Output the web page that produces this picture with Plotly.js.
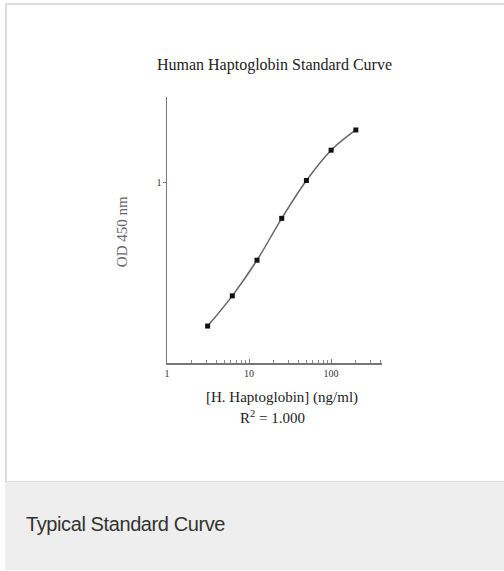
<!DOCTYPE html>
<html>
<head>
<meta charset="utf-8">
<script src="https://cdn.plot.ly/plotly-3.0.1.min.js"></script>
<style>
  html, body { margin: 0; padding: 0; width: 504px; height: 571px; overflow: hidden; background: #ffffff; }
  #card { position: absolute; left: 5px; top: 3px; width: 499px; height: 478px; background: #ffffff;
          border-left: 2px solid #dddddd; border-top: 2px solid #dddddd; box-sizing: border-box; }
  #foot { position: absolute; left: 5px; top: 481px; width: 499px; height: 89px; background: #edeeed;
          border-top: 1px solid #dcdddc; box-sizing: border-box; }
  #caption { position: absolute; left: 26px; top: 513px; font-family: "Liberation Sans", Arial, sans-serif;
             font-size: 20px; line-height: 23px; color: #333333; letter-spacing: -0.4px; white-space: nowrap; }
  #chart { position: absolute; left: 0; top: 0; width: 504px; height: 571px; }
</style>
</head>
<body>
<div id="card"></div>
<div id="foot"></div>
<div id="caption">Typical Standard Curve</div>
<div id="chart"></div>
<script>
// Data
const concentrations = [3.125, 6.25, 12.5, 25, 50, 100, 200]; // ng/ml
const od450 = [0.16, 0.235, 0.37, 0.63, 1.02, 1.50, 1.94];
const xTickVals = [1, 10, 100];
const xTickText = ['1', '10', '100'];
const xMinorTickVals = [2,3,4,5,6,7,8,9,20,30,40,50,60,70,80,90,200,300,400];
const yTickVals = [1];
const yTickText = ['1'];

const serif = "Liberation Serif, Times New Roman, serif";

const trace = {
  x: concentrations,
  y: od450,
  type: 'scatter',
  mode: 'lines+markers',
  line: { color: '#666666', width: 1.5, shape: 'spline', smoothing: 1 },
  marker: { symbol: 'square', size: 5, color: '#111111' },
  hoverinfo: 'skip'
};

const layout = {
  width: 504, height: 571,
  margin: { l: 167, r: 122, t: 97, b: 208, pad: 0 },
  paper_bgcolor: 'rgba(0,0,0,0)',
  plot_bgcolor: 'rgba(0,0,0,0)',
  showlegend: false,
  title: {
    text: 'Human Haptoglobin Standard Curve',
    font: { family: serif, size: 16, color: '#222222' },
    x: 0.5, xref: 'paper', xanchor: 'center',
    y: 1 - 64 / 571, yref: 'container', yanchor: 'middle'
  },
  xaxis: {
    type: 'log', range: [0, 2.62],
    showline: true, linecolor: '#777777', linewidth: 1.5,
    showgrid: false, zeroline: false,
    tickmode: 'array', tickvals: xTickVals, ticktext: xTickText,
    ticks: 'inside', ticklen: 4, tickwidth: 1, tickcolor: '#777777',
    tickfont: { family: serif, size: 10, color: '#333333' },
    minor: { tickmode: 'array', tickvals: xMinorTickVals, ticks: 'inside', ticklen: 3,
             tickwidth: 1, tickcolor: '#888888', showgrid: false }
  },
  yaxis: {
    type: 'log', range: [-1, 0.47],
    showline: true, linecolor: '#777777', linewidth: 1.5,
    showgrid: false, zeroline: false,
    tickmode: 'array', tickvals: yTickVals, ticktext: yTickText,
    ticks: 'outside', ticklen: 3, tickwidth: 1, tickcolor: '#777777',
    ticklabelstandoff: -1,
    tickfont: { family: serif, size: 10, color: '#333333' }
  },
  annotations: [
    { text: '[H. Haptoglobin] (ng/ml)', xref: 'paper', yref: 'paper',
      x: 0.535, y: -0.128, xanchor: 'center', yanchor: 'middle', showarrow: false,
      font: { family: serif, size: 15, color: '#222222' } },
    { text: 'R<sup>2</sup> = 1.000', xref: 'paper', yref: 'paper',
      x: 0.493, y: -0.203, xanchor: 'center', yanchor: 'middle', showarrow: false,
      font: { family: serif, size: 15, color: '#222222' } },
    { text: 'OD 450 nm', xref: 'paper', yref: 'paper', textangle: -90,
      x: -0.209, y: 0.492, xanchor: 'center', yanchor: 'middle', showarrow: false,
      font: { family: serif, size: 15, color: '#666666' } }
  ]
};

Plotly.newPlot('chart', [trace], layout, { staticPlot: true, displayModeBar: false });
</script>
</body>
</html>
